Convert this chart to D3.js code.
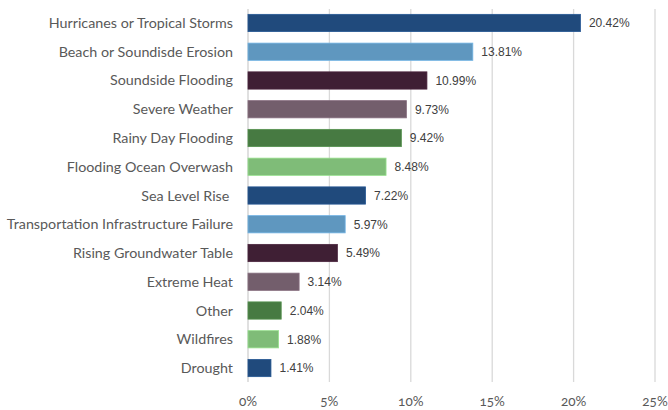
<!DOCTYPE html>
<html><head><meta charset="utf-8">
<script src="https://cdn.jsdelivr.net/npm/d3@7"></script>
<style>
body{margin:0;background:#fff;}
svg{display:block;}
</style></head><body>
<svg id="c" width="668" height="410"></svg>
<script>
const categories = ["Hurricanes or Tropical Storms","Beach or Soundisde Erosion","Soundside Flooding","Severe Weather","Rainy Day Flooding","Flooding Ocean Overwash","Sea Level Rise ","Transportation Infrastructure Failure","Rising Groundwater Table","Extreme Heat","Other","Wildfires","Drought"];
const values = [20.42,13.81,10.99,9.73,9.42,8.48,7.22,5.97,5.49,3.14,2.04,1.88,1.41];
const colors = ["#204a7c","#5f97bf","#3f1f34","#735e6c","#477a42","#7fbc78","#204a7c","#5f97bf","#3f1f34","#735e6c","#477a42","#7fbc78","#204a7c"];
const ticks = [0,5,10,15,20,25];

const svg = d3.select("#c");
const x = d3.scaleLinear().domain([0,25]).range([248,655]);
const y = d3.scaleBand().domain(categories).range([8.6,382.4]).paddingInner(0.4).paddingOuter(0.2);

// gridlines
svg.append("g").selectAll("line").data(ticks).join("line")
  .attr("x1",d=>x(d)).attr("x2",d=>x(d)).attr("y1",9).attr("y2",382)
  .attr("stroke",d=>d===0?"#d0d0d0":"#d9d9d9").attr("stroke-width",1.3);

// tick labels
svg.append("g").selectAll("text").data(ticks).join("text")
  .attr("x",d=>x(d)).attr("y",406)
  .attr("text-anchor","middle")
  .style("font-family","Lato, sans-serif").style("font-size","13.5px")
  .style("font-feature-settings","'onum' 1").style("font-variant-numeric","oldstyle-nums")
  .attr("fill","#595959").text(d=>d+"%");

// bars
svg.append("g").selectAll("rect").data(values).join("rect")
  .attr("x",x(0)).attr("y",(d,i)=>y(categories[i]))
  .attr("width",d=>x(d)-x(0)).attr("height",y.bandwidth())
  .attr("fill",(d,i)=>colors[i])
  .attr("stroke",(d,i)=>d3.color(colors[i]).brighter(0.5)).attr("stroke-width",0.8);

// value labels
svg.append("g").selectAll("text").data(values).join("text")
  .attr("x",d=>x(d)+8.5).attr("y",(d,i)=>y(categories[i])+y.bandwidth()/2)
  .attr("dy","0.36em")
  .style("font-family","'Liberation Sans', Arial, sans-serif").style("font-size","12px")
  .attr("fill","#404040").text(d=>d.toFixed(2)+"%");

// category labels
svg.append("g").selectAll("text").data(categories).join("text")
  .attr("x",233).attr("y",d=>y(d)+y.bandwidth()/2)
  .attr("dy","0.35em").attr("text-anchor","end")
  .style("white-space","pre")
  .style("font-family","Lato, sans-serif").style("font-size","14.3px")
  .attr("fill","#595959").text(d=>d);
</script>
</body></html>
